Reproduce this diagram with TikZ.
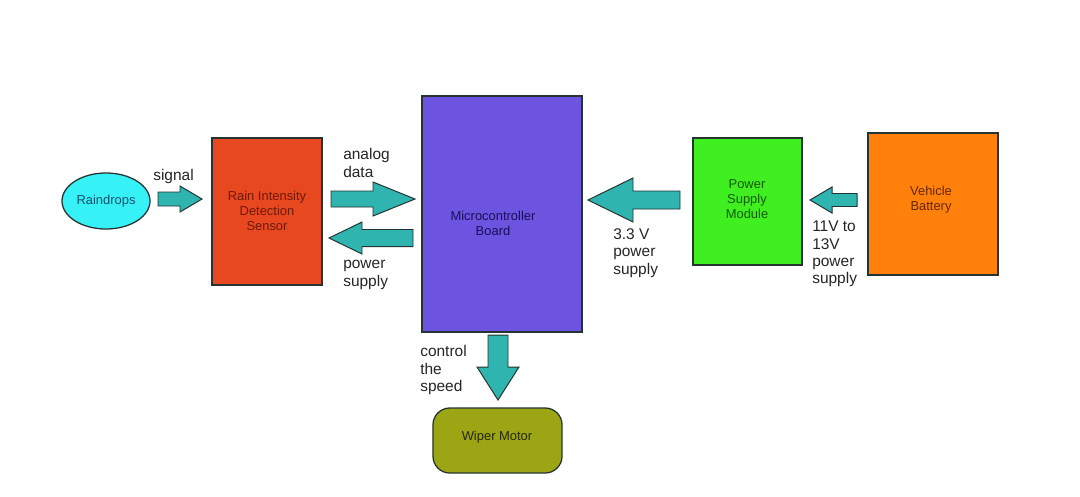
\documentclass[tikz,border=0pt]{standalone}
\usepackage{fontspec}
\setmainfont{Liberation Sans}
\usetikzlibrary{shapes.geometric}
\definecolor{cRain}{HTML}{36F1F6}
\definecolor{cSens}{HTML}{E8481F}
\definecolor{cMicro}{HTML}{6C53E0}
\definecolor{cPSM}{HTML}{3FEF20}
\definecolor{cBat}{HTML}{FF800A}
\definecolor{cWip}{HTML}{9CA614}
\definecolor{cArr}{HTML}{2FB4AF}
\definecolor{cLine}{HTML}{263333}
\begin{document}
\begin{tikzpicture}[x=0.025cm,y=-0.025cm,
  box/.style={draw=cLine,line width=0.9pt,inner sep=0pt,align=center,
    font=\fontsize{9.2}{10.6}\selectfont},
  lbl/.style={anchor=west,align=left,inner sep=0pt,
    font=\fontsize{11}{12.4}\selectfont,text=black!85},
  blk/.style={fill=cArr,draw=cLine,line width=0.7pt,line join=miter}]
\useasboundingbox[fill=white] (0,0) rectangle (1080,496);

% nodes
\node[box,ellipse,fill=cRain,minimum width=2.2cm,minimum height=1.4cm,
  text={rgb,255:red,20;green,80;blue,110}] (rain) at (106,201) {Raindrops};
\node[box,rectangle,fill=cSens,minimum width=2.75cm,minimum height=3.675cm,
  text={rgb,255:red,110;green,25;blue,10}] (sens) at (267,211.5) {};
\node[box,fill=none,draw=none,text={rgb,255:red,110;green,25;blue,10}] (senst) at (267,211) {Rain Intensity\\Detection\\Sensor};
\node[box,rectangle,fill=cMicro,minimum width=4cm,minimum height=5.9cm] (micro) at (502,214) {};
\node[box,draw=none,text={rgb,255:red,25;green,15;blue,90}] (microt) at (493,223.5) {Microcontroller\\Board};
\node[box,rectangle,fill=cPSM,minimum width=2.725cm,minimum height=3.175cm] (psm) at (747.5,201.5) {};
\node[box,draw=none,text={rgb,255:red,20;green,90;blue,10}] (psmt) at (747,199) {Power\\Supply\\Module};
\node[box,rectangle,fill=cBat,minimum width=3.25cm,minimum height=3.55cm] (bat) at (933,204) {};
\node[box,draw=none,text={rgb,255:red,100;green,40;blue,5}] (batt) at (931,200) {Vehicle\\Battery};
\node[box,rectangle,rounded corners=0.42cm,fill=cWip,minimum width=3.225cm,minimum height=1.625cm] (wip) at (497.5,440.5) {};
\node[box,draw=none,text={rgb,255:red,35;green,40;blue,5}] (wipt) at (497,437) {Wiper Motor};

% block arrows
% signal (right)
\draw[blk] (158,192)--(180,192)--(180,186)--(202,199)--(180,212)--(180,206)--(158,206)--cycle;
% analog data (right)
\draw[blk] (331,191)--(373,191)--(373,182)--(415,199)--(373,216)--(373,207)--(331,207)--cycle;
% power supply (left)
\draw[blk] (413,229.5)--(362,229.5)--(362,222)--(329,238)--(362,254)--(362,246.5)--(413,246.5)--cycle;
% 3.3 V (left)
\draw[blk] (680,191)--(633,191)--(633,178)--(588,200)--(633,222)--(633,209)--(680,209)--cycle;
% 11V to 13V (left)
\draw[blk] (857,193.5)--(832,193.5)--(832,187)--(810,200)--(832,213)--(832,206.5)--(857,206.5)--cycle;
% control the speed (down)
\draw[blk] (488,335)--(488,367)--(477,367)--(498,400)--(519,367)--(508,367)--(508,335)--cycle;

% labels
\node[lbl] (lsig) at (153,176) {signal};
\node[lbl] (lana) at (343,163) {analog\\data};
\node[lbl] (lpow) at (343,275) {power\\supply};
\node[lbl] (l33) at (613,253) {3.3 V\\power\\supply};
\node[lbl] (l11) at (812,254) {11V to\\13V\\power\\supply};
\node[lbl] (lctl) at (420,370) {control\\the\\speed};
\end{tikzpicture}
\end{document}
